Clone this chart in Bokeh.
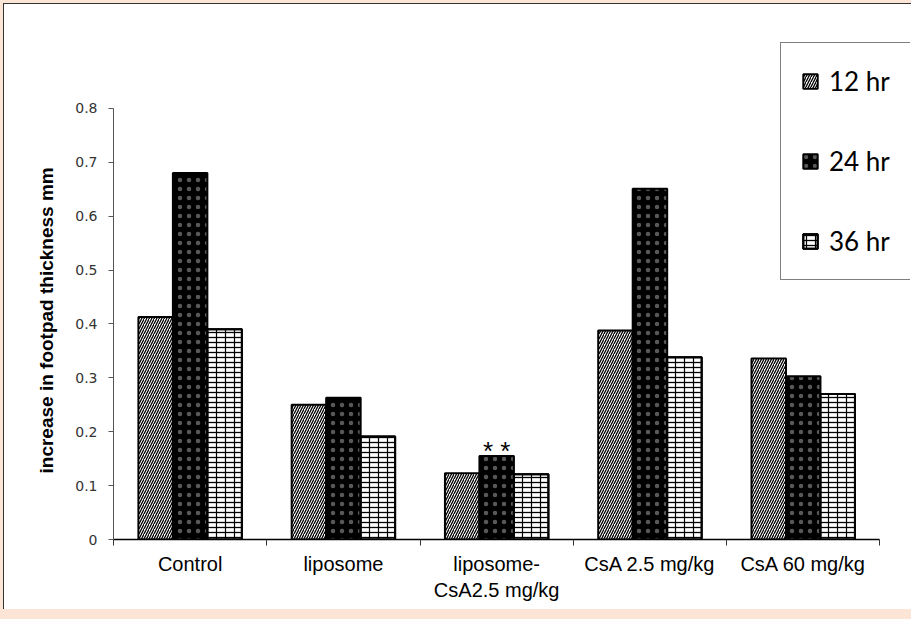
from bokeh.plotting import figure
from bokeh.models import ColumnDataSource, FixedTicker, Legend, LegendItem, Title
from bokeh.transform import dodge
from bokeh.layouts import column
from bokeh.embed import file_html
from bokeh.resources import INLINE
from bokeh.core.properties import value

# ---- data ----
categories = ["Control", "liposome", "liposome-\nCsA2.5 mg/kg", "CsA 2.5 mg/kg", "CsA 60 mg/kg"]
series_labels = ["12 hr", "24 hr", "36 hr"]
hr12 = [0.413, 0.250, 0.123, 0.388, 0.336]
hr24 = [0.680, 0.263, 0.155, 0.651, 0.303]
hr36 = [0.390, 0.191, 0.121, 0.338, 0.270]
y_ticks = [0, 0.1, 0.2, 0.3, 0.4, 0.5, 0.6, 0.7, 0.8]
y_tick_labels = ["0", "0.1", "0.2", "0.3", "0.4", "0.5", "0.6", "0.7", "0.8"]
y_label = "increase in footpad thickness mm"
annot_text = "* *"
annot_index = 2

PEACH = "#FCE4D6"
W = 0.225
N = len(categories)

centers = [i + 0.5 for i in range(N)]
src = ColumnDataSource(dict(center=centers, hr12=hr12, hr24=hr24, hr36=hr36))

p = figure(width=908, height=606, x_range=(0, 5.2), y_range=(0, 0.95),
           output_backend="svg", toolbar_location=None,
           min_border_left=109, min_border_right=2, min_border_top=23, min_border_bottom=71)
p.background_fill_alpha = 0
p.border_fill_alpha = 0
p.outline_line_color = None
p.xgrid.visible = False
p.ygrid.visible = False

r12 = p.vbar(x=dodge("center", -W, range=p.x_range), top="hr12", bottom=0, width=W, source=src,
             fill_color="white", line_color="black", line_width=2,
             hatch_pattern="/", hatch_color="black", hatch_scale=5, hatch_weight=1.3)
r24 = p.vbar(x=dodge("center", 0, range=p.x_range), top="hr24", bottom=0, width=W, source=src,
             fill_color="black", line_color="black", line_width=2,
             hatch_pattern=".", hatch_color="#dddddd", hatch_alpha=0.4,
             hatch_scale=9, hatch_weight=0.5)
r36a = p.vbar(x=dodge("center", W, range=p.x_range), top="hr36", bottom=0, width=W, source=src,
              fill_color="white", line_color="black", line_width=2,
              hatch_pattern="-", hatch_color="black", hatch_scale=5, hatch_weight=1.3)
r36b = p.vbar(x=dodge("center", W, range=p.x_range), top="hr36", bottom=0, width=W, source=src,
              fill_alpha=0, line_color="black", line_width=2,
              hatch_pattern="|", hatch_color="black", hatch_scale=9, hatch_weight=1.2)

p.text(x=[centers[annot_index]], y=[hr24[annot_index]], text=[annot_text],
       text_align="center", text_baseline="alphabetic", y_offset=-5,
       text_font=value("Liberation Sans"), text_font_size="26px", text_color="black")

# y axis
ya = p.yaxis[0]
ya.bounds = (0, 0.8)
ya.ticker = FixedTicker(ticks=y_ticks)
ya.major_label_overrides = {t: l for t, l in zip(y_ticks, y_tick_labels)}
ya.axis_line_color = "#555555"
ya.major_tick_line_color = "#555555"
ya.major_tick_out = 5
ya.major_tick_in = 0
ya.minor_tick_line_color = None
ya.major_label_text_font = "DejaVu Sans"
ya.major_label_text_font_size = "14px"
ya.major_label_text_color = "#333333"
ya.major_label_standoff = 11

# y axis title in the left panel
ytitle = Title(text=y_label, align="left", offset=66, standoff=32,
               text_font="Liberation Sans", text_font_style="bold",
               text_font_size="19px", text_color="black")
p.add_layout(ytitle, "left")

# x axis
xa = p.xaxis[0]
xa.bounds = (0, N)
xa.ticker = FixedTicker(ticks=centers, minor_ticks=list(range(N + 1)))
xa.major_label_overrides = {c: l for c, l in zip(centers, categories)}
xa.axis_line_color = "black"
xa.axis_line_width = 1.5
xa.major_tick_line_color = None
xa.major_tick_out = 0
xa.major_tick_in = 0
xa.minor_tick_line_color = "#333333"
xa.minor_tick_out = 6
xa.minor_tick_in = 0
xa.major_label_text_font = "Liberation Sans"
xa.major_label_text_font_size = "20px"
xa.major_label_text_color = "black"
xa.major_label_standoff = 7

items = [LegendItem(label=series_labels[0], renderers=[r12]),
         LegendItem(label=series_labels[1], renderers=[r24]),
         LegendItem(label=series_labels[2], renderers=[r36a, r36b])]
legend = Legend(items=items, location=(667, 259), orientation="vertical",
                label_text_font="Lato", label_text_font_size="26px", label_text_color="black",
                glyph_width=18, glyph_height=18, label_height=36, spacing=44, padding=20,
                label_standoff=10, border_line_color="black", border_line_width=1,
                background_fill_color="white", background_fill_alpha=1, margin=0)
p.add_layout(legend)

p.styles = {"background-color": "white",
            "border-left": "1px solid #333333", "border-top": "1px solid #333333"}
layout = column(p, styles={"background-color": PEACH, "padding": "3px 0px 10px 3px"})

open("out.html", "w").write(file_html(layout, INLINE))
